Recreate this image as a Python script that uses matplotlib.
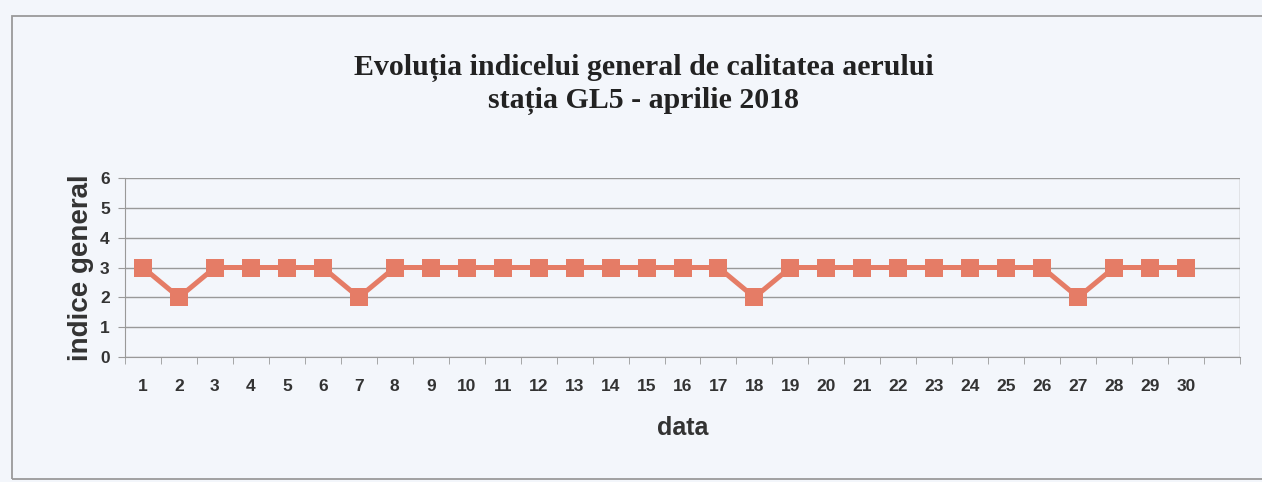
import numpy as np
import matplotlib
matplotlib.use('Agg')
from matplotlib import pyplot as plt
from matplotlib.patches import Rectangle

zile = list(range(1, 31))
indice = [3, 2, 3, 3, 3, 3, 2, 3, 3, 3, 3, 3, 3, 3, 3, 3, 3, 2, 3, 3,
          3, 3, 3, 3, 3, 3, 2, 3, 3, 3]
yticks = [0, 1, 2, 3, 4, 5, 6]

fundal = '#f3f6fb'
culoare = '#e57c66'

fig = plt.figure(figsize=(12.62, 4.82), dpi=100, facecolor=fundal)
ax = fig.add_axes([125/1262, 1 - 357/482, (1240-125)/1262, (357-178)/482])
ax.set_facecolor(fundal)

# cadrul exterior al graficului (marginea dreapta iese din imagine)
fig.patches.append(Rectangle((12/1262, 1 - 479/482), 1.2, (479-16)/482,
                             transform=fig.transFigure, fill=False,
                             edgecolor='#9a9a9a', linewidth=1.3))

x = np.arange(len(zile))
ax.plot(x, indice, '-s', color=culoare, linewidth=3.6, markersize=13,
        markeredgewidth=0, zorder=3)

ax.set_xlim(-0.5, 30.5)
ax.set_ylim(0, 6)
ax.set_yticks(yticks)
ax.set_xticks(x)
ax.set_xticklabels([str(z) for z in zile])
ax.set_xticks(np.arange(-0.5, 31, 1), minor=True)
ax.tick_params(axis='x', which='major', length=0, pad=16)
ax.tick_params(axis='x', which='minor', length=5, color='#999999')
ax.tick_params(axis='y', length=5, color='#999999', pad=6)
for lab in ax.get_xticklabels() + ax.get_yticklabels():
    lab.set_fontfamily('Liberation Sans')
    lab.set_fontweight('bold')
    lab.set_fontsize(12.5)
    lab.set_color('#333333')

ax.yaxis.grid(True, color='#999999', linewidth=1)
ax.set_axisbelow(True)
for s in ['top', 'right']:
    ax.spines[s].set_visible(False)
ax.spines['left'].set_color('#999999')
ax.spines['bottom'].set_color('#999999')
ax.axvline(30.5, color='#999999', linewidth=1)

ax.set_ylabel('indice general', fontfamily='Liberation Sans', fontweight='bold',
              fontsize=20, color='#333333', labelpad=4)
ax.set_xlabel('data', fontfamily='Liberation Sans', fontweight='bold',
              fontsize=18, color='#333333', labelpad=16)

fig.text(0.51, 1 - 68/482, 'Evoluția indicelui general de calitatea aerului',
         ha='center', va='center', fontfamily='Liberation Serif',
         fontweight='bold', fontsize=21.5, color='#222222')
fig.text(0.51, 1 - 101/482, 'stația GL5 - aprilie 2018',
         ha='center', va='center', fontfamily='Liberation Serif',
         fontweight='bold', fontsize=21.5, color='#222222')

fig.savefig('out.png', dpi=100, facecolor=fundal)
